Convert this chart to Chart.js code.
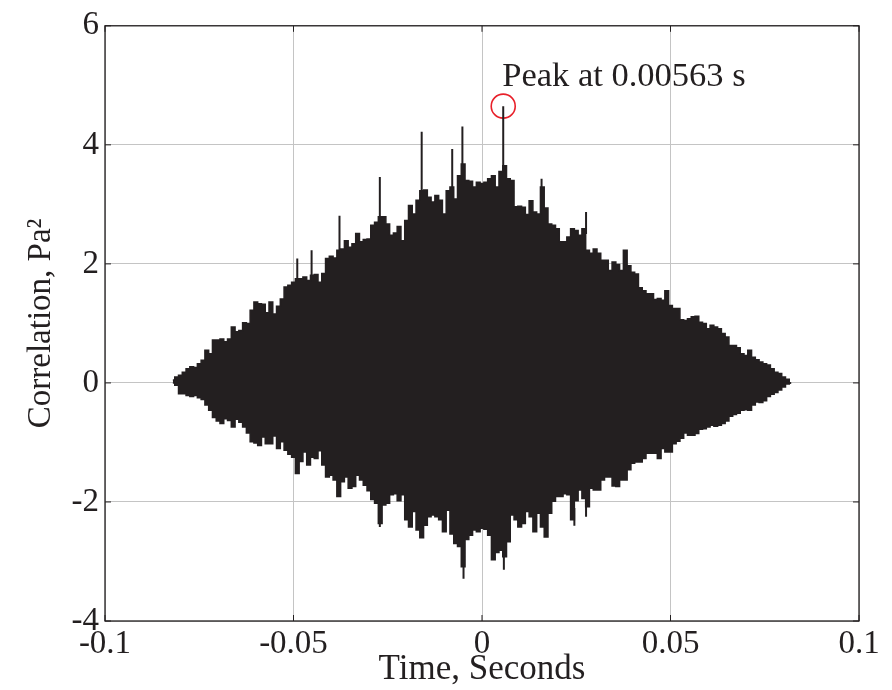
<!DOCTYPE html>
<html>
<head>
<meta charset="utf-8">
<script src="https://cdn.jsdelivr.net/npm/chart.js@4.4.1/dist/chart.umd.min.js"></script>
<style>
  html, body { margin: 0; padding: 0; background: #fff; }
</style>
</head>
<body>
<canvas id="corr" width="892" height="690"></canvas>
<script>
// envelope of the correlation, one value per ms of lag, from -82 ms to +82 ms
const lagStartMs = -82;
const upperEnv = [
  0.05, 0.10, 0.13, 0.18, 0.24, 0.27, 0.26, 0.32, 0.38, 0.55,
  0.49, 0.72, 0.72, 0.74, 0.69, 0.74, 0.94, 0.86, 0.88, 1.01,
  1.00, 1.22, 1.36, 1.33, 1.32, 1.18, 1.36, 1.16, 1.29, 1.41,
  1.61, 1.64, 1.69, 1.75, 1.75, 1.78, 1.72, 1.81, 1.82, 1.69,
  1.84, 2.09, 2.13, 2.10, 2.23, 2.25, 2.39, 2.28, 2.34, 2.51,
  2.37, 2.41, 2.42, 2.65, 2.70, 2.79, 2.79, 2.67, 2.48, 2.52,
  2.63, 2.39, 2.73, 2.98, 2.84, 3.07, 3.23, 3.24, 3.12, 3.04,
  3.15, 3.07, 2.84, 3.23, 3.29, 3.09, 3.48, 3.68, 3.40, 3.39,
  3.29, 3.37, 3.35, 3.37, 3.43, 3.48, 3.29, 3.55, 3.65, 3.43,
  3.40, 2.96, 2.97, 2.95, 2.83, 3.06, 2.87, 2.84, 3.29, 2.94,
  2.67, 2.65, 2.59, 2.37, 2.37, 2.45, 2.59, 2.56, 2.48, 2.59,
  2.23, 2.18, 2.25, 2.18, 2.06, 2.06, 1.89, 2.03, 1.99, 1.89,
  2.23, 1.97, 1.86, 1.83, 1.60, 1.55, 1.50, 1.50, 1.40, 1.42,
  1.39, 1.55, 1.30, 1.25, 1.25, 1.06, 1.05, 1.08, 1.11, 1.12,
  1.02, 1.00, 0.91, 0.97, 0.94, 0.91, 0.83, 0.77, 0.63, 0.63,
  0.59, 0.49, 0.46, 0.55, 0.43, 0.39, 0.35, 0.32, 0.30, 0.24,
  0.18, 0.16, 0.10, 0.06, 0.00
];
const lowerEnv = [
  0.00, -0.04, -0.18, -0.18, -0.21, -0.23, -0.21, -0.25, -0.28, -0.37,
  -0.46, -0.58, -0.64, -0.68, -0.60, -0.63, -0.74, -0.61, -0.66, -0.74,
  -0.84, -0.99, -1.01, -1.05, -0.91, -1.02, -1.02, -0.89, -1.10, -0.99,
  -1.13, -1.20, -1.25, -1.52, -1.32, -1.16, -1.38, -1.25, -1.27, -1.14,
  -1.38, -1.58, -1.55, -1.63, -1.91, -1.66, -1.58, -1.77, -1.74, -1.55,
  -1.63, -1.72, -1.81, -1.96, -2.02, -2.36, -2.05, -2.02, -1.88, -1.86,
  -1.98, -1.88, -2.30, -2.42, -2.16, -2.47, -2.60, -2.39, -2.25, -2.22,
  -2.25, -2.30, -2.50, -2.14, -2.54, -2.70, -2.75, -3.09, -2.63, -2.56,
  -2.47, -2.50, -2.44, -2.46, -2.56, -2.97, -2.85, -2.81, -2.92, -2.67,
  -2.22, -2.30, -2.42, -2.36, -2.16, -2.25, -2.50, -2.19, -2.42, -2.59,
  -2.19, -1.99, -1.91, -1.91, -1.86, -1.88, -2.30, -1.98, -1.80, -1.94,
  -2.08, -1.77, -1.80, -1.80, -1.63, -1.58, -1.58, -1.73, -1.74, -1.63,
  -1.63, -1.46, -1.35, -1.33, -1.33, -1.27, -1.18, -1.18, -1.18, -1.27,
  -1.10, -1.16, -1.16, -1.02, -0.98, -0.93, -0.84, -0.88, -0.88, -0.85,
  -0.78, -0.77, -0.74, -0.71, -0.73, -0.71, -0.68, -0.64, -0.56, -0.53,
  -0.51, -0.46, -0.45, -0.46, -0.37, -0.32, -0.33, -0.30, -0.23, -0.19,
  -0.16, -0.12, -0.07, -0.02, 0.00
];

// narrow spikes sticking out of the envelope (time in s, from, to)
const spikeTime = [-0.0490, -0.0452, -0.0378, -0.0271, -0.0160, -0.0079, -0.0052, 0.00563, 0.0158, 0.0276,
                   -0.0271, -0.0049, 0.0058, 0.0245, 0.0276];
const spikeFrom = [1.70, 1.75, 2.20, 2.70, 3.20, 3.25, 3.60, 3.55, 3.00, 2.50,
                   -2.20, -3.00, -2.85, -2.10, -2.00];
const spikeTo   = [2.09, 2.23, 2.81, 3.46, 4.22, 3.93, 4.31, 4.65, 3.43, 2.87,
                   -2.42, -3.29, -3.14, -2.40, -2.25];

const peakTime = 0.00563;
const peakValue = 4.65;
const peakLabel = 'Peak at 0.00563 s';

const xTickValues = [-0.1, -0.05, 0, 0.05, 0.1];
const xTickLabels = ['-0.1', '-0.05', '0', '0.05', '0.1'];
const yTickValues = [-4, -2, 0, 2, 4, 6];
const yTickLabels = ['-4', '-2', '0', '2', '4', '6'];

const ink = '#231f20';
const serif = "'Liberation Serif', 'Times New Roman', serif";
const fontSize = 33;

const upperPts = upperEnv.map((v, i) => ({ x: (lagStartMs + i) / 1000, y: v }));
const lowerPts = lowerEnv.map((v, i) => ({ x: (lagStartMs + i) / 1000, y: v }));
const spikePts = [];
spikeTime.forEach((t, i) => {
  spikePts.push({ x: t, y: spikeFrom[i] }, { x: t, y: spikeTo[i] }, { x: t, y: null });
});

// box around the axes with inward ticks, like matlab
const framePlugin = {
  id: 'frame',
  afterDatasetsDraw(chart) {
    const { ctx, chartArea: a, scales } = chart;
    ctx.save();
    ctx.strokeStyle = ink;
    ctx.lineWidth = 1.3;
    ctx.strokeRect(a.left, a.top, a.right - a.left, a.bottom - a.top);
    ctx.lineWidth = 1;
    ctx.beginPath();
    xTickValues.forEach(v => {
      const px = scales.x.getPixelForValue(v);
      ctx.moveTo(px, a.bottom); ctx.lineTo(px, a.bottom - 6);
      ctx.moveTo(px, a.top); ctx.lineTo(px, a.top + 6);
    });
    yTickValues.forEach(v => {
      const py = scales.y.getPixelForValue(v);
      ctx.moveTo(a.left, py); ctx.lineTo(a.left + 6, py);
      ctx.moveTo(a.right, py); ctx.lineTo(a.right - 6, py);
    });
    ctx.stroke();
    ctx.restore();
  }
};

const peakTextPlugin = {
  id: 'peakText',
  afterDatasetsDraw(chart) {
    const { ctx, scales } = chart;
    const px = scales.x.getPixelForValue(peakTime);
    const py = scales.y.getPixelForValue(peakValue);
    ctx.save();
    ctx.font = '34.5px ' + serif;
    ctx.fillStyle = ink;
    ctx.textAlign = 'left';
    ctx.textBaseline = 'alphabetic';
    ctx.fillText(peakLabel, px - 1, py - 20);
    ctx.restore();
  }
};

new Chart(document.getElementById('corr'), {
  type: 'line',
  data: {
    datasets: [
      {
        data: upperPts,
        borderColor: ink,
        borderWidth: 1.5,
        backgroundColor: ink,
        pointRadius: 0,
        stepped: 'middle',
        fill: '+1'
      },
      {
        data: lowerPts,
        borderColor: ink,
        borderWidth: 1.5,
        pointRadius: 0,
        stepped: 'middle',
        fill: false
      },
      {
        data: spikePts,
        borderColor: ink,
        borderWidth: 2,
        pointRadius: 0,
        spanGaps: false,
        fill: false
      },
      {
        data: [{ x: peakTime, y: peakValue }],
        showLine: false,
        pointStyle: 'circle',
        pointRadius: 12,
        pointBorderWidth: 1.6,
        pointBorderColor: '#e8202a',
        pointBackgroundColor: 'rgba(0,0,0,0)',
        fill: false
      }
    ]
  },
  options: {
    responsive: false,
    animation: false,
    layout: { padding: { top: 25, right: 33, left: 0, bottom: 0 } },
    plugins: {
      legend: { display: false },
      tooltip: { enabled: false }
    },
    scales: {
      x: {
        type: 'linear',
        min: -0.1,
        max: 0.1,
        afterBuildTicks: s => { s.ticks = xTickValues.map(v => ({ value: v })); },
        afterFit: s => { s.height = 69; },
        grid: { color: '#c4c4c4', lineWidth: 1, drawTicks: false },
        border: { display: false },
        ticks: {
          padding: 4,
          color: ink,
          maxRotation: 0,
          font: { family: serif, size: fontSize },
          callback: v => xTickLabels[xTickValues.indexOf(v)]
        },
        title: {
          display: true,
          text: 'Time, Seconds',
          color: ink,
          font: { family: serif, size: 35 },
          padding: { top: 0, bottom: -1 }
        }
      },
      y: {
        min: -4,
        max: 6,
        afterBuildTicks: s => { s.ticks = yTickValues.map(v => ({ value: v })); },
        afterFit: s => { s.width = 105; },
        grid: { color: '#c4c4c4', lineWidth: 1, drawTicks: false },
        border: { display: false },
        ticks: {
          padding: 6,
          color: ink,
          font: { family: serif, size: fontSize },
          callback: v => yTickLabels[yTickValues.indexOf(v)]
        },
        title: {
          display: true,
          text: 'Correlation, Pa²',
          color: ink,
          font: { family: serif, size: fontSize },
          padding: { top: 22, bottom: 0 }
        }
      }
    }
  },
  plugins: [framePlugin, peakTextPlugin]
});
</script>
</body>
</html>
